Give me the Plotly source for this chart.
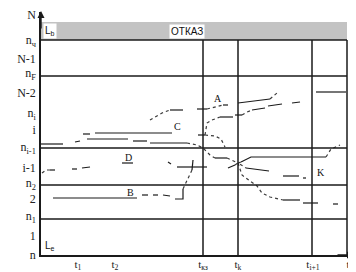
import plotly.graph_objects as go

# ---- data (x = time units, y = level units) ----
level_y = [215, 179, 107, 70, 36]
time_x = [162, 197, 271, 306]
band_y = [215, 233]

ytick_vals = [240, 215, 196, 182, 162, 142, 125, 108, 87, 72, 56, 39, 19, 0]
ytick_text = ["N", "n<sub>ч</sub>", "N-1", "n<sub>F</sub>", "N-2", "n<sub>i</sub>", "i",
              "n<sub>i-1</sub>", "i-1", "n<sub>2</sub>", "2", "n<sub>1</sub>", "1", "n"]
xtick_vals = [37, 74, 162, 197, 272, 307]
xtick_text = ["t<sub>1</sub>", "t<sub>2</sub>", "t<sub>кз</sub>", "t<sub>k</sub>", "t<sub>i+1</sub>", "t"]

# curve P (long curve through both crossings)
P_solid_x = [0, 22, None, 34, 39, None, 46, 87, None, 92, 106, None, 109, 146, None, 174, 186, None, 200, 210, 285]
P_solid_y = [111, 111, None, 113, 114, None, 116, 116, None, 114, 114, None, 112, 112, None, 97, 97, None, 93, 98, 98]
P_dot_x = [146, 156, 162, 169, 174, None, 186, 197, 200, None, 285, 290, 299]
P_dot_y = [112, 110, 107, 100, 97, None, 97, 92, 93, None, 98, 106, 110]

# curve C -> A (upper)
A_solid_x = [129, 142, None, 156, 166, None, 182, 187, None, 197, 229]
A_solid_y = [145, 145, None, 146, 146, None, 150, 150, None, 152, 156]
A_dot_x = [109, 121, 129, None, 166, 182, None, 229, 236]
A_dot_y = [135, 142, 145, None, 146, 150, None, 156, 162]

# curve C lower -> second upper branch
C_solid_x = [42, 49, None, 54, 131, None, 157, 164, None, 179, 192, None, 194, 201, None, 211, 224, None, 227, 241, None, 251, 259]
C_solid_y = [121, 121, None, 122, 122, None, 120, 120, None, 138, 138, None, 140, 140, None, 145, 147, None, 149, 151, None, 152, 153]
C_dot_x = [164, 166, 171, 179, None, 201, 206, 211, None, 164, 174, 180, 184]
C_dot_y = [120, 132, 135, 138, None, 140, 143, 145, None, 120, 119, 116, 108]

# curve D
D_solid_x = [9, 14, None, 31, 36, None, 41, 49, None, 81, 92, None, 127, 130, None, 136, 166, None, 187, 194,
             None, 205, 228, None, 242, 258, None, 262, 265]
D_solid_y = [85, 85, None, 86, 86, None, 87, 88, None, 92, 92, None, 93, 91, None, 88, 88, None, 87, 90,
             None, 87, 84, None, 79, 79, None, 77, 77]
D_dot_x = [1, 5, 9, None, 194, 197, 205]
D_dot_y = [82, 85, 85, None, 90, 92, 87]

# curve B
B_solid_x = [12, 96, None, 101, 107, None, 112, 117, None, 122, 129, None, 134, 142, 142, None, 151, 152]
B_solid_y = [57, 57, None, 60, 60, None, 60, 60, None, 60, 59, None, 56, 56, 66, None, 85, 95]
B_dot_x = [142, 146, 150, 151]
B_dot_y = [66, 75, 83, 85]

# curve E (lower right branch)
E_solid_x = [242, 259, None, 262, 277, None, 292, 297]
E_solid_y = [55, 55, None, 52, 52, None, 51, 51]
E_dot_x = [197, 201, 209, 216, 221, 229, 242]
E_dot_y = [92, 80, 74, 69, 62, 58, 55]

# isolated solid segment top right
F_x = [275, 305]
F_y = [163, 163]

curve_labels = ["A", "C", "D", "B", "K"]
curve_label_x = [177, 136, 87, 89, 280]
curve_label_y = [157, 129, 98, 63, 83]

# ---- figure ----
fig = go.Figure()
INK = "#1a1a1a"
DOT = "#3a3a3a"

solid_sets = [(P_solid_x, P_solid_y), (A_solid_x, A_solid_y), (C_solid_x, C_solid_y),
              (D_solid_x, D_solid_y), (B_solid_x, B_solid_y), (E_solid_x, E_solid_y), (F_x, F_y)]
dot_sets = [(P_dot_x, P_dot_y), (A_dot_x, A_dot_y), (C_dot_x, C_dot_y),
            (D_dot_x, D_dot_y), (B_dot_x, B_dot_y), (E_dot_x, E_dot_y)]

for xs, ys in solid_sets:
    fig.add_trace(go.Scatter(x=xs, y=ys, mode="lines", line=dict(color=INK, width=1.2),
                             connectgaps=False, hoverinfo="skip", showlegend=False))
for xs, ys in dot_sets:
    fig.add_trace(go.Scatter(x=xs, y=ys, mode="lines", line=dict(color=DOT, width=1.2, dash="dot"),
                             connectgaps=False, hoverinfo="skip", showlegend=False))

shapes = []
shapes.append(dict(type="rect", xref="x", yref="y", x0=0, x1=time_x[-1], y0=band_y[0], y1=band_y[1],
                   fillcolor="#c3c3c3", line=dict(width=0), layer="below"))
for yv in level_y:
    shapes.append(dict(type="line", xref="x", yref="y", x0=0, x1=time_x[-1], y0=yv, y1=yv,
                       line=dict(color=INK, width=1.5)))
for xv in time_x:
    shapes.append(dict(type="line", xref="x", yref="y", x0=xv, x1=xv, y0=0, y1=level_y[0],
                       line=dict(color=INK, width=1.5)))

annotations = []
annotations.append(dict(x=146, y=224, xref="x", yref="y", text="ОТКАЗ", showarrow=False,
                        font=dict(family="Liberation Sans", size=10, color="#111"),
                        bgcolor="white", borderpad=1))
annotations.append(dict(x=9, y=224, xref="x", yref="y", text="L<sub>b</sub>", showarrow=False,
                        font=dict(family="Liberation Sans", size=10, color="#111"),
                        bgcolor="white", borderpad=1))
annotations.append(dict(x=9, y=9, xref="x", yref="y", text="L<sub>e</sub>", showarrow=False,
                        font=dict(family="Liberation Sans", size=10, color="#111")))
annotations.append(dict(x=9, y=246, xref="x", yref="y", text="ε", showarrow=False,
                        font=dict(family="Liberation Serif", size=8, color="#777")))
for t, xv, yv in zip(curve_labels, curve_label_x, curve_label_y):
    annotations.append(dict(x=xv, y=yv, xref="x", yref="y", text=t, showarrow=False,
                            font=dict(family="Liberation Serif", size=10, color="#111")))
# axis arrows
annotations.append(dict(x=0, y=244, ax=0, ay=225, xref="x", yref="y", axref="x", ayref="y",
                        text="", showarrow=True, arrowhead=2, arrowsize=1, arrowwidth=1.4,
                        arrowcolor=INK))
annotations.append(dict(x=313, y=0, ax=295, ay=0, xref="x", yref="y", axref="x", ayref="y",
                        text="", showarrow=True, arrowhead=2, arrowsize=1, arrowwidth=1.4,
                        arrowcolor=INK))

# the page body has an 8px default margin, so the figure is sized to fit inside it
fig.update_layout(
    width=348, height=264,
    margin=dict(l=33, r=6, t=4, b=17, autoexpand=False),
    paper_bgcolor="white", plot_bgcolor="white",
    shapes=shapes, annotations=annotations,
    xaxis=dict(range=[0, 309], showgrid=False, zeroline=False, showline=True, automargin=False,
               linecolor=INK, linewidth=1.5, ticks="", tickvals=xtick_vals, ticktext=xtick_text,
               ticklabelstandoff=-2,
               tickfont=dict(family="Liberation Serif", size=11, color="#222"), fixedrange=True),
    yaxis=dict(range=[0, 243], showgrid=False, zeroline=False, showline=True, automargin=False,
               linecolor=INK, linewidth=1.5, ticks="", tickvals=ytick_vals, ticktext=ytick_text,
               ticklabelstandoff=1,
               tickfont=dict(family="Liberation Serif", size=12, color="#222"), fixedrange=True),
    showlegend=False,
)

fig.write_html("out.html", config={"displayModeBar": False})
